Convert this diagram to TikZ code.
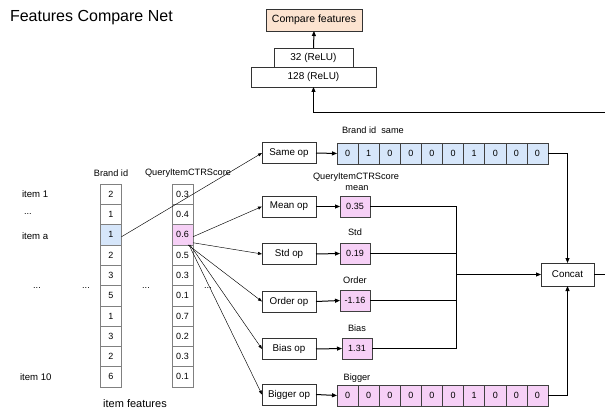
\documentclass[tikz,border=0pt]{standalone}
\usepackage{fontspec}
\setmainfont{Liberation Sans}
\usetikzlibrary{arrows.meta}
\definecolor{cblue}{HTML}{D6E6FA}
\definecolor{cpink}{HTML}{F6D0F6}
\definecolor{cpeach}{HTML}{FCE3D0}
\definecolor{cgray}{HTML}{808080}
\tikzset{
  base/.style={inner sep=0pt, outer sep=0pt, font=\fontsize{9}{10}\selectfont},
  colcell/.style={base, draw=cgray, line width=0.6pt, minimum width=21pt, minimum height=20.3pt},
  arrcell/.style={base, draw=black!75, line width=0.6pt, minimum width=21.1pt, minimum height=21pt},
  opbox/.style={base, draw=black!80, line width=0.6pt, minimum width=54pt, minimum height=21pt, font=\fontsize{9.8}{11}\selectfont},
  lbl/.style={base, font=\fontsize{9.2}{10}\selectfont},
  thin/.style={line width=0.45pt, -{Triangle[length=4pt,width=3pt]}},
  thick/.style={line width=1pt, -{Triangle[length=5pt,width=4pt]}},
  plain/.style={line width=1pt}
}
\begin{document}
\begin{tikzpicture}[x=1pt,y=-1pt]
\useasboundingbox (0,0) rectangle (605,409);
% title
\node[base, anchor=west, font=\fontsize{16}{18}\selectfont] (title) at (10,18) {Features Compare Net};
% top network
\node[base, draw=black!80, fill=cpeach, minimum width=96pt, minimum height=22pt, font=\fontsize{10.5}{12}\selectfont] (cmp) at (314,20) {Compare features};
\node[base, draw=black!80, minimum width=79pt, minimum height=19pt, font=\fontsize{10}{12}\selectfont] (l32) at (313.5,57.5) {32 (ReLU)};
\node[base, draw=black!80, minimum width=125pt, minimum height=20pt, font=\fontsize{10}{12}\selectfont] (l128) at (313.5,77) {128 (ReLU)};
\draw[thick] (l32.north) -- (cmp.south);
\coordinate (tr) at (605,113);
\draw[thick] (tr) -- (tr -| l128.south) -- (l128.south);
% column labels
\node[lbl] (hb) at (111,173) {Brand id};
\node[lbl] (hc) at (188,173) {QueryItemCTRScore};
% columns
\foreach \v [count=\i] in {2,1,1,2,3,5,1,3,2,6} {
  \node[colcell] (b\i) at (111,{184+20.3*(\i-0.5)}) {\v};
}
\foreach \v [count=\i] in {0.3,0.4,0.6,0.5,0.3,0.1,0.7,0.2,0.3,0.1} {
  \node[colcell] (c\i) at (182.5,{184+20.3*(\i-0.5)}) {\v};
}
\node[colcell, fill=cblue] at (b3) {1};
\node[colcell, fill=cpink] at (c3) {0.6};
% row labels
\node[lbl, anchor=west, font=\fontsize{9.6}{10}\selectfont] (r1) at (22,194) {item 1};
\node[lbl, anchor=west] (r2) at (24,214) {...};
\node[lbl, anchor=west, font=\fontsize{9.6}{10}\selectfont] (r3) at (22,236) {item a};
\node[lbl, anchor=west, font=\fontsize{9.6}{10}\selectfont] (r10) at (20,377) {item 10};
\node[lbl] (d1) at (37,288) {...};
\node[lbl] (d2) at (86,288) {...};
\node[lbl] (d3) at (146,288) {...};
\node[lbl] (d4) at (208,288) {...};
\node[base, font=\fontsize{11}{12}\selectfont] (feat) at (135,404) {item features};
% op boxes
\node[opbox] (sameop) at (289,153) {Same op};
\node[opbox] (meanop) at (289,206.5) {Mean op};
\node[opbox] (stdop) at (289,254) {Std op};
\node[opbox] (orderop) at (289,301.5) {Order op};
\node[opbox] (biasop) at (289,349) {Bias op};
\node[opbox] (biggerop) at (289,394.5) {Bigger op};
% arrays
\foreach \v [count=\i] in {0,1,0,0,0,0,1,0,0,0} {
  \node[arrcell, fill=cblue] (s\i) at ({337+21.1*(\i-0.5)},153.5) {\v};
}
\foreach \v [count=\i] in {0,0,0,0,0,0,1,0,0,0} {
  \node[arrcell, fill=cpink] (g\i) at ({337+21.1*(\i-0.5)},395.5) {\v};
}
\node[arrcell, fill=cpink, minimum width=30pt] (meanv) at (355,206.5) {0.35};
\node[arrcell, fill=cpink, minimum width=30pt] (stdv) at (355,253.5) {0.19};
\node[arrcell, fill=cpink, minimum width=30pt] (orderv) at (355,300.5) {-1.16};
\node[arrcell, fill=cpink, minimum width=30pt] (biasv) at (357,348.5) {1.31};
% array labels
\node[lbl, anchor=west] (ls) at (342,130) {Brand id\ \ same};
\node[lbl] (lm1) at (356,177) {QueryItemCTRScore};
\node[lbl] (lm2) at (357,188) {mean};
\node[lbl] (lsd) at (355,232) {Std};
\node[lbl] (lo) at (355,280) {Order};
\node[lbl] (lb) at (357,328) {Bias};
\node[lbl] (lg) at (357,378) {Bigger};
% concat
\node[opbox, minimum width=53pt, minimum height=23pt] (concat) at (567.5,274.5) {Concat};
\coordinate (cr) at (605,274.5);
\draw[plain] (concat.east) -- (cr);
% op -> array
\draw[thick] (sameop.east) -- (s1.west);
\draw[thick] (meanop.east) -- (meanv.west);
\draw[thick] (stdop.east) -- (stdv.west);
\draw[thick] (orderop.east) -- (orderv.west);
\draw[thick] (biasop.east) -- (biasv.west);
\draw[thick] (biggerop.east) -- (g1.west);
% columns -> ops
\draw[thin] ([yshift=-2pt]b3.east) -- (sameop.west);
\draw[thin] ([yshift=-2pt]c3.east) -- (meanop.west);
\draw[thin] ([yshift=-8pt]c3.east) -- (stdop.west);
\draw[thin] ([xshift=-5pt]c3.south east) -- (orderop.west);
\draw[thin] ([xshift=-3pt]c3.south east) -- (biasop.west);
\draw[thin] ([xshift=-4pt]c3.south east) -- (biggerop.west);
% to concat
\coordinate (jtop) at (456,206.5);
\coordinate (jbot) at (456,348.5);
\draw[plain] (meanv.east) -- (jtop) -- (jbot) -- (biasv.east);
\draw[plain] (stdv.east) -- (stdv.east -| jtop);
\draw[plain] (orderv.east) -- (orderv.east -| jtop);
\draw[thick] (jtop |- concat.west) -- (concat.west);
\draw[thick] (s10.east) -| (concat.north);
\draw[thick] (g10.east) -| (concat.south);
\end{tikzpicture}
\end{document}
